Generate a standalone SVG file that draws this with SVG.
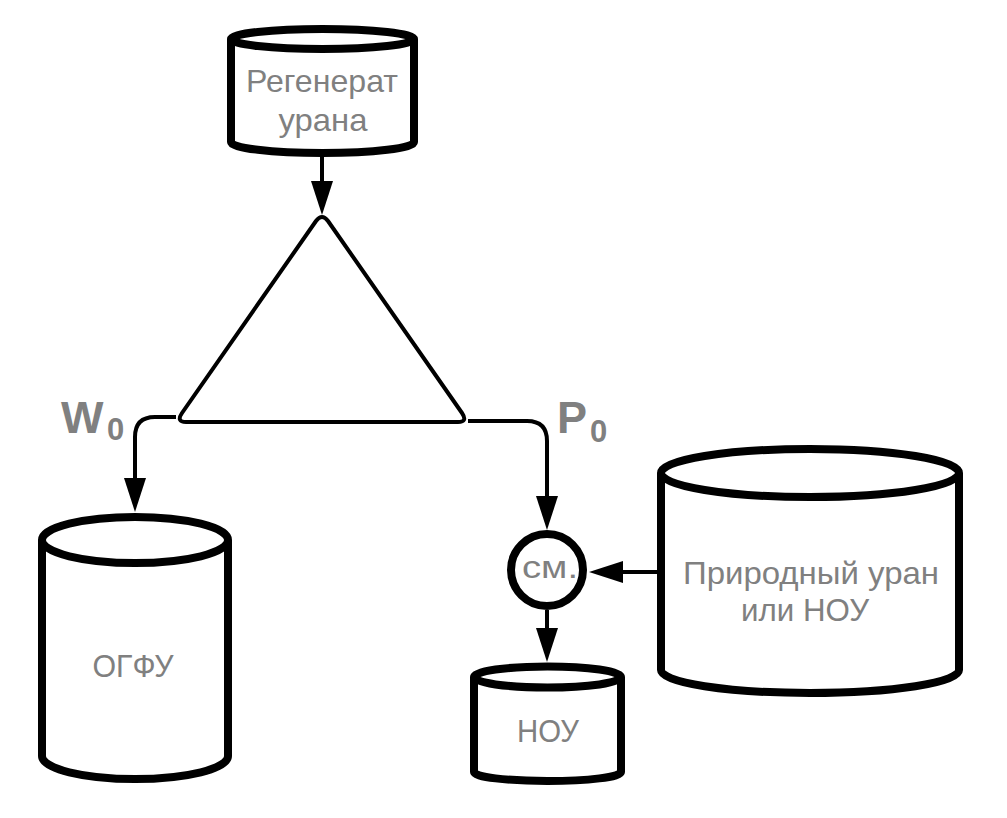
<svg xmlns="http://www.w3.org/2000/svg" width="1007" height="818" viewBox="0 0 1007 818">
<style>
.cyl{fill:#fff;stroke:#000;stroke-width:8;stroke-linejoin:round}
.lbl{font-family:"Liberation Sans",Arial,sans-serif;fill:#808080;font-size:32px;text-anchor:middle}
.big{font-family:"Liberation Sans",Arial,sans-serif;fill:#808080;font-weight:bold}
.conn{fill:none;stroke:#000;stroke-width:4}
</style>
<defs>
<marker id="ah" markerUnits="userSpaceOnUse" viewBox="0 0 34 22" refX="0" refY="11" markerWidth="34" markerHeight="22" orient="auto">
<path d="M0,0 L34,11 L0,22 z" fill="#000"/>
</marker>
</defs>
<rect width="1007" height="818" fill="#fff"/>
<g id="connectors">
<path class="conn" d="M322,157 V181" marker-end="url(#ah)"/>
<path class="conn" d="M176,417 H155 Q135,417 135,437 V478" marker-end="url(#ah)"/>
<path class="conn" d="M468,421 H527 Q547,421 547,441 V496" marker-end="url(#ah)"/>
<path class="conn" d="M657,572 H623" marker-end="url(#ah)"/>
<path class="conn" d="M547,610 V628" marker-end="url(#ah)"/>
</g>
<g id="regenerat">
<path class="cyl" d="M231,39 A91.5,10 0 0 1 414,39 V142 A91.5,11 0 0 1 231,142 Z"/>
<path class="cyl" fill="none" d="M231,39 A91.5,10 0 0 0 414,39"/>
<text class="lbl" x="322" y="92" textLength="152" lengthAdjust="spacingAndGlyphs">Регенерат</text>
<text class="lbl" x="323" y="131" textLength="89" lengthAdjust="spacingAndGlyphs">урана</text>
</g>
<g id="separator">
<path d="M316,221 Q322,213 328,221 L462,413 Q468,422 458,422 L186,422 Q176,422 182,413 Z" fill="#fff" stroke="#000" stroke-width="4" stroke-linejoin="round"/>
</g>
<g id="labels">
<text class="big" x="61" y="433" font-size="45">W</text>
<text class="big" x="107" y="440" font-size="31">0</text>
<text class="big" x="557" y="433" font-size="45">P</text>
<text class="big" x="590" y="442" font-size="31">0</text>
</g>
<g id="ogfu">
<path class="cyl" d="M42,540 A93,23 0 0 1 228,540 V756 A93,23 0 0 1 42,756 Z"/>
<path class="cyl" fill="none" d="M42,540 A93,23 0 0 0 228,540"/>
<text class="lbl" x="133" y="677" textLength="81" lengthAdjust="spacingAndGlyphs">ОГФУ</text>
</g>
<g id="mixer">
<circle cx="547" cy="570" r="36" fill="#fff" stroke="#000" stroke-width="8"/>
<text class="lbl" x="550" y="578" textLength="56" lengthAdjust="spacingAndGlyphs">см.</text>
</g>
<g id="nou">
<path class="cyl" d="M474,677 A73.5,10.5 0 0 1 621,677 V772 A73.5,9 0 0 1 474,772 Z"/>
<path class="cyl" fill="none" d="M474,677 A73.5,10.5 0 0 0 621,677"/>
<text class="lbl" x="548" y="742" textLength="62" lengthAdjust="spacingAndGlyphs">НОУ</text>
</g>
<g id="natural">
<path class="cyl" d="M661,473 A149,24 0 0 1 959,473 V670 A149,23 0 0 1 661,670 Z"/>
<path class="cyl" fill="none" d="M661,473 A149,24 0 0 0 959,473"/>
<text class="lbl" x="811" y="584" textLength="256" lengthAdjust="spacingAndGlyphs">Природный уран</text>
<text class="lbl" x="805" y="621" textLength="128" lengthAdjust="spacingAndGlyphs">или НОУ</text>
</g>
</svg>
